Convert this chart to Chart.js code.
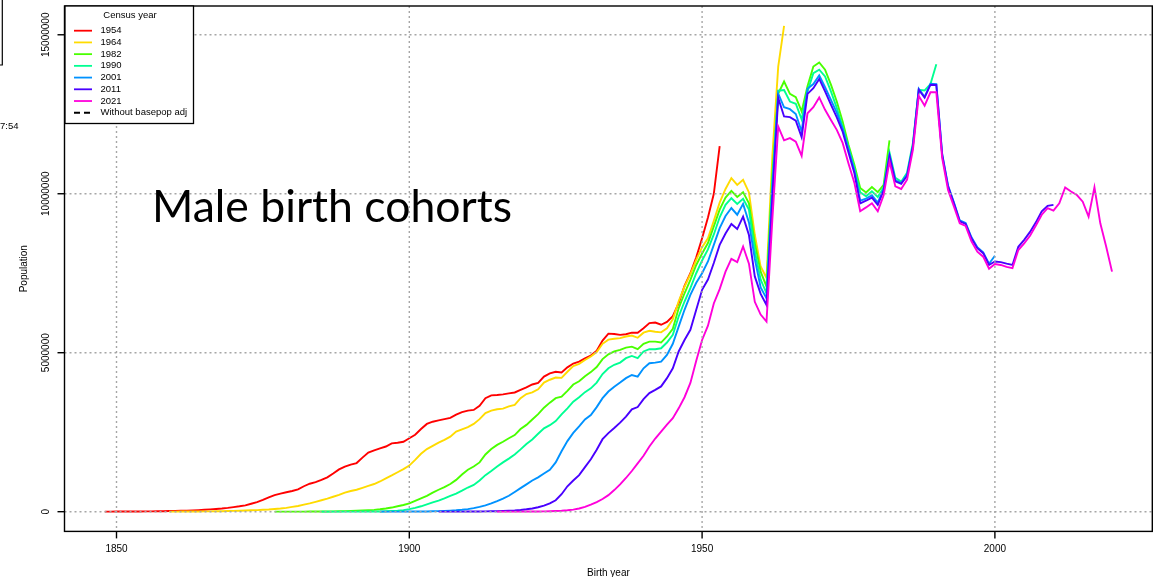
<!DOCTYPE html>
<html>
<head>
<meta charset="utf-8">
<script src="https://cdn.jsdelivr.net/npm/chart.js@4.4.0/dist/chart.umd.min.js"></script>
<style>
  html, body { margin: 0; padding: 0; background: #fff; }
  #wrap { position: relative; width: 1162px; height: 577px; }
</style>
</head>
<body>
<div id="wrap"><canvas id="cohortChart" width="1162" height="577"></canvas></div>
<script>
// birth years on the x axis
const birthYears = [
  1848, 1849, 1850, 1851, 1852, 1853, 1854, 1855, 1856, 1857,
  1858, 1859, 1860, 1861, 1862, 1863, 1864, 1865, 1866, 1867,
  1868, 1869, 1870, 1871, 1872, 1873, 1874, 1875, 1876, 1877,
  1878, 1879, 1880, 1881, 1882, 1883, 1884, 1885, 1886, 1887,
  1888, 1889, 1890, 1891, 1892, 1893, 1894, 1895, 1896, 1897,
  1898, 1899, 1900, 1901, 1902, 1903, 1904, 1905, 1906, 1907,
  1908, 1909, 1910, 1911, 1912, 1913, 1914, 1915, 1916, 1917,
  1918, 1919, 1920, 1921, 1922, 1923, 1924, 1925, 1926, 1927,
  1928, 1929, 1930, 1931, 1932, 1933, 1934, 1935, 1936, 1937,
  1938, 1939, 1940, 1941, 1942, 1943, 1944, 1945, 1946, 1947,
  1948, 1949, 1950, 1951, 1952, 1953, 1954, 1955, 1956, 1957,
  1958, 1959, 1960, 1961, 1962, 1963, 1964, 1965, 1966, 1967,
  1968, 1969, 1970, 1971, 1972, 1973, 1974, 1975, 1976, 1977,
  1978, 1979, 1980, 1981, 1982, 1983, 1984, 1985, 1986, 1987,
  1988, 1989, 1990, 1991, 1992, 1993, 1994, 1995, 1996, 1997,
  1998, 1999, 2000, 2001, 2002, 2003, 2004, 2005, 2006, 2007,
  2008, 2009, 2010, 2011, 2012, 2013, 2014, 2015, 2016, 2017,
  2018, 2019, 2020
];

// census years (legend) and the last birth year each census covers
const censusYears = ['1954', '1964', '1982', '1990', '2001', '2011', '2021'];
const lastBirthYear = [1953, 1964, 1982, 1990, 2000, 2010, 2020];
const lineColors = ['#FF0000', '#FFDB00', '#49FF00', '#00FF92', '#0092FF', '#4900FF', '#FF00DB'];

// population per birth cohort, millions (oldest cohort first)
const pop1954 = [
  0.003, 0.003, 0.004, 0.004, 0.005, 0.006, 0.007, 0.009, 0.011, 0.013,
  0.016, 0.02, 0.024, 0.029, 0.035, 0.042, 0.05, 0.06, 0.072, 0.085,
  0.1, 0.12, 0.145, 0.17, 0.2, 0.25, 0.3, 0.37, 0.45, 0.52,
  0.57, 0.61, 0.65, 0.7, 0.8, 0.88, 0.93, 1.0, 1.08, 1.2,
  1.33, 1.42, 1.48, 1.53, 1.7, 1.86, 1.93, 1.99, 2.05, 2.15,
  2.17, 2.2, 2.31, 2.42, 2.6, 2.76, 2.83, 2.87, 2.91, 2.95,
  3.05, 3.13, 3.18, 3.2, 3.33, 3.57, 3.66, 3.67, 3.69, 3.72,
  3.75, 3.83, 3.91, 4.0, 4.05, 4.25, 4.35, 4.4, 4.38, 4.54,
  4.66, 4.72, 4.82, 4.91, 5.06, 5.38, 5.6, 5.59, 5.56, 5.58,
  5.63, 5.63, 5.77, 5.93, 5.95, 5.88, 5.97, 6.15, 6.56, 7.1,
  7.5, 8.0, 8.6, 9.25, 10.0, 11.5
];
const pop1964 = [
  0.002, 0.003, 0.004, 0.005, 0.006, 0.007, 0.009, 0.011, 0.013, 0.016,
  0.02, 0.025, 0.03, 0.036, 0.043, 0.05, 0.06, 0.07, 0.085, 0.1,
  0.12, 0.15, 0.18, 0.22, 0.26, 0.31, 0.36, 0.41, 0.47, 0.53,
  0.6, 0.65, 0.69, 0.75, 0.81, 0.87, 0.95, 1.05, 1.14, 1.24,
  1.34, 1.45, 1.63, 1.82, 1.97, 2.07, 2.17, 2.26, 2.36, 2.52,
  2.59, 2.66, 2.76, 2.91, 3.1, 3.18, 3.22, 3.24, 3.31, 3.36,
  3.57, 3.7, 3.75, 3.85, 4.06, 4.15, 4.22, 4.21, 4.4, 4.58,
  4.65, 4.77, 4.88, 5.02, 5.28, 5.41, 5.44, 5.46, 5.51, 5.54,
  5.47, 5.63, 5.69, 5.66, 5.64, 5.77, 6.05, 6.62, 7.08, 7.47,
  7.92, 8.32, 8.6, 9.15, 9.72, 10.15, 10.49, 10.28, 10.44, 10.04,
  8.71, 7.71, 7.35, 11.2, 14.0, 15.28
];
const pop1982 = [
  0.001, 0.001, 0.002, 0.002, 0.003, 0.003, 0.004, 0.005, 0.006, 0.008,
  0.01, 0.013, 0.017, 0.022, 0.028, 0.036, 0.046, 0.058, 0.075, 0.1,
  0.13, 0.17, 0.21, 0.26, 0.34, 0.42, 0.5, 0.6, 0.69, 0.77,
  0.87, 1.0, 1.17, 1.32, 1.42, 1.55, 1.8, 1.97, 2.1, 2.2,
  2.31, 2.41, 2.6, 2.73, 2.9, 3.07, 3.27, 3.43, 3.57, 3.62,
  3.8, 4.0, 4.1, 4.26, 4.39, 4.55, 4.8, 4.95, 5.04, 5.09,
  5.16, 5.19, 5.11, 5.28, 5.35, 5.35, 5.32, 5.51, 5.75, 6.4,
  6.87, 7.29, 7.76, 8.12, 8.45, 8.97, 9.5, 9.88, 10.09, 9.9,
  10.05, 9.7, 8.45, 7.55, 7.08, 10.6, 13.15, 13.53, 13.14, 13.04,
  12.59, 13.38, 14.0, 14.13, 13.9, 13.43, 12.9, 12.27, 11.54, 10.91,
  10.18, 10.04, 10.21, 10.05, 10.28, 11.68
];
const pop1990 = [
  0.001, 0.001, 0.001, 0.002, 0.002, 0.003, 0.003, 0.004, 0.005, 0.006,
  0.008, 0.015, 0.022, 0.033, 0.05, 0.08, 0.12, 0.17, 0.23, 0.29,
  0.35, 0.42, 0.5, 0.57, 0.66, 0.76, 0.84, 0.98, 1.15, 1.28,
  1.42, 1.55, 1.67, 1.8, 1.96, 2.13, 2.27, 2.45, 2.62, 2.72,
  2.85, 3.06, 3.25, 3.46, 3.6, 3.76, 3.88, 4.06, 4.33, 4.51,
  4.62, 4.69, 4.83, 4.9, 4.83, 5.04, 5.11, 5.11, 5.14, 5.32,
  5.56, 6.14, 6.61, 7.03, 7.5, 7.9, 8.25, 8.72, 9.26, 9.65,
  9.86, 9.68, 9.84, 9.5, 8.2, 7.3, 6.87, 10.4, 13.24, 13.26,
  12.9, 12.83, 12.34, 13.22, 13.79, 13.9, 13.69, 13.22, 12.7, 12.1,
  11.45, 10.8, 10.05, 9.92, 10.08, 9.9, 10.2, 11.3, 10.5, 10.38,
  10.66, 11.6, 13.27, 13.25, 13.45, 14.07
];
const pop2001 = [
  0.001, 0.001, 0.002, 0.002, 0.003, 0.004, 0.005, 0.006, 0.008, 0.012,
  0.018, 0.025, 0.035, 0.045, 0.06, 0.08, 0.11, 0.15, 0.2, 0.26,
  0.33, 0.41, 0.5, 0.62, 0.74, 0.86, 0.98, 1.08, 1.2, 1.32,
  1.55, 1.9, 2.22, 2.48, 2.68, 2.9, 3.04, 3.29, 3.57, 3.78,
  3.93, 4.06, 4.2, 4.3, 4.25, 4.51, 4.67, 4.69, 4.72, 4.93,
  5.28, 5.82, 6.35, 6.82, 7.2, 7.5, 7.87, 8.39, 8.92, 9.3,
  9.55, 9.34, 9.68, 9.1, 7.95, 7.05, 6.71, 10.2, 13.15, 12.72,
  12.66, 12.51, 11.96, 13.3, 13.45, 13.72, 13.35, 12.95, 12.55, 12.05,
  11.4, 10.75, 9.78, 9.85, 9.95, 9.72, 10.15, 11.22, 10.42, 10.34,
  10.6, 11.52, 13.3, 13.05, 13.46, 13.45, 11.25, 10.26, 9.73, 9.16,
  9.08, 8.63, 8.32, 8.16, 7.8, 8.05
];
const pop2011 = [
  0.001, 0.001, 0.002, 0.002, 0.003, 0.004, 0.005, 0.007, 0.009, 0.012,
  0.016, 0.022, 0.03, 0.04, 0.055, 0.075, 0.1, 0.14, 0.19, 0.26,
  0.36, 0.55, 0.8, 0.98, 1.15, 1.4, 1.65, 1.95, 2.28, 2.47,
  2.63, 2.8, 2.99, 3.22, 3.29, 3.54, 3.73, 3.83, 3.94, 4.2,
  4.51, 5.04, 5.4, 5.72, 6.35, 6.98, 7.3, 7.82, 8.39, 8.75,
  9.05, 8.89, 9.28, 8.7, 7.4, 6.85, 6.5, 9.9, 13.01, 12.43,
  12.41, 12.3, 11.78, 13.14, 13.32, 13.61, 13.22, 12.8, 12.4, 11.95,
  11.3, 10.65, 9.7, 9.78, 9.88, 9.65, 10.1, 11.19, 10.39, 10.31,
  10.56, 11.49, 13.27, 13.02, 13.43, 13.42, 11.22, 10.23, 9.7, 9.13,
  9.05, 8.6, 8.29, 8.13, 7.76, 7.87, 7.85, 7.8, 7.76, 8.33,
  8.55, 8.8, 9.1, 9.45, 9.62, 9.65
];
const pop2021 = [
  0.001, 0.001, 0.002, 0.002, 0.003, 0.004, 0.005, 0.007, 0.01, 0.014,
  0.02, 0.03, 0.045, 0.065, 0.1, 0.15, 0.22, 0.3, 0.4, 0.52,
  0.68, 0.86, 1.06, 1.28, 1.52, 1.76, 2.05, 2.3, 2.52, 2.74,
  2.94, 3.25, 3.6, 4.05, 4.75, 5.4, 5.85, 6.55, 7.0, 7.55,
  7.95, 7.85, 8.34, 7.8, 6.6, 6.2, 5.98, 9.2, 12.11, 11.68,
  11.75, 11.64, 11.19, 12.53, 12.72, 13.03, 12.64, 12.32, 12.01, 11.6,
  10.95, 10.35, 9.45, 9.57, 9.7, 9.45, 9.95, 11.01, 10.23, 10.15,
  10.44, 11.38, 13.08, 12.77, 13.19, 13.19, 11.12, 10.12, 9.6, 9.07,
  8.99, 8.5, 8.18, 8.02, 7.64, 7.79, 7.76, 7.7, 7.66, 8.23,
  8.44, 8.68, 9.0, 9.34, 9.55, 9.47, 9.7, 10.2, 10.07, 9.96,
  9.75, 9.28, 10.2, 9.07, 8.34, 7.55
];

// axes
const xTicks = [1850, 1900, 1950, 2000];
const xTickLabels = ['1850', '1900', '1950', '2000'];
const yTicks = [0, 5, 10, 15];
const yTickLabels = ['0', '5000000', '10000000', '15000000'];

const seriesValues = [pop1954, pop1964, pop1982, pop1990, pop2001, pop2011, pop2021];
const axisFont = '"Liberation Sans", Arial, sans-serif';

// punkty (rok urodzenia, liczebność) dla jednego spisu
function cohortPoints(values, lastYear) {
    const end = birthYears.indexOf(lastYear);
    const years = birthYears.slice(end - values.length + 1, end + 1);
    return values.map((v, i) => ({ x: years[i], y: v }));
}

const datasets = censusYears.map((label, i) => ({
    label: label,
    data: cohortPoints(seriesValues[i], lastBirthYear[i]),
    borderColor: lineColors[i],
    borderWidth: 1.9,
    pointRadius: 0,
    tension: 0,
    fill: false,
    order: censusYears.length - i
}));
datasets.push({
    label: 'Without basepop adj',
    data: [],
    borderColor: '#000000',
    borderDash: [6, 4],
    borderWidth: 1.8,
    pointRadius: 0,
    order: 99
});

// R-style frame, dotted grid, axis text, legend and annotation
const rFrame = {
    id: 'rFrame',
    afterDatasetsDraw(chart) {
        const ctx = chart.ctx;
        const a = chart.chartArea;
        const x = chart.scales.x;
        const y = chart.scales.y;
        ctx.save();

        // dotted grid on top of the lines
        ctx.strokeStyle = '#a6a6a6';
        ctx.lineWidth = 1.4;
        ctx.setLineDash([2, 3]);
        xTicks.forEach(v => {
            const px = x.getPixelForValue(v);
            ctx.beginPath(); ctx.moveTo(px, a.top); ctx.lineTo(px, a.bottom); ctx.stroke();
        });
        yTicks.forEach(v => {
            const py = y.getPixelForValue(v);
            ctx.beginPath(); ctx.moveTo(a.left, py); ctx.lineTo(a.right, py); ctx.stroke();
        });
        ctx.setLineDash([]);

        // box and ticks
        ctx.strokeStyle = '#000';
        ctx.lineWidth = 1.4;
        ctx.strokeRect(a.left, a.top, a.right - a.left, a.bottom - a.top);
        ctx.fillStyle = '#000';
        ctx.font = '10px ' + axisFont;
        ctx.textAlign = 'center';
        ctx.textBaseline = 'middle';
        xTicks.forEach((v, i) => {
            const px = x.getPixelForValue(v);
            ctx.beginPath(); ctx.moveTo(px, a.bottom); ctx.lineTo(px, a.bottom + 7); ctx.stroke();
            ctx.fillText(xTickLabels[i], px, 549);
        });
        yTicks.forEach((v, i) => {
            const py = y.getPixelForValue(v);
            ctx.beginPath(); ctx.moveTo(a.left, py); ctx.lineTo(a.left - 7, py); ctx.stroke();
            ctx.save();
            ctx.translate(46.5, py);
            ctx.rotate(-Math.PI / 2);
            ctx.fillText(yTickLabels[i], 0, 0);
            ctx.restore();
        });

        // axis titles
        ctx.fillText('Birth year', (a.left + a.right) / 2, 573);
        ctx.save();
        ctx.translate(24, (a.top + a.bottom) / 2);
        ctx.rotate(-Math.PI / 2);
        ctx.fillText('Population', 0, 0);
        ctx.restore();

        // legend box
        const lx = 65, ly = 6, lw = 128.5, lh = 117.5;
        ctx.fillStyle = '#fff';
        ctx.fillRect(lx, ly, lw, lh);
        ctx.strokeStyle = '#000';
        ctx.lineWidth = 1.3;
        ctx.strokeRect(lx, ly, lw, lh);
        ctx.fillStyle = '#000';
        ctx.font = '9.5px ' + axisFont;
        ctx.fillText('Census year', 130, 15.5);
        ctx.textAlign = 'left';
        chart.data.datasets.forEach((ds, i) => {
            const ry = 30.7 + i * 11.72;
            ctx.strokeStyle = ds.borderColor;
            ctx.lineWidth = 1.8;
            ctx.setLineDash(ds.borderDash || []);
            ctx.beginPath(); ctx.moveTo(74, ry); ctx.lineTo(92, ry); ctx.stroke();
            ctx.fillText(ds.label, 100.5, ry);
        });
        ctx.setLineDash([]);

        // big annotation
        ctx.font = '44px Lato, "Open Sans", sans-serif';
        ctx.textBaseline = 'alphabetic';
        const msg = 'Male birth cohorts';
        const w = ctx.measureText(msg).width;
        ctx.save();
        ctx.translate(152, 222);
        ctx.scale(360 / w, 1);
        ctx.fillText(msg, 0, 0);
        ctx.restore();

        // leftovers at the left edge of the screenshot
        ctx.strokeStyle = '#000';
        ctx.lineWidth = 1.2;
        ctx.beginPath(); ctx.moveTo(2.3, 0); ctx.lineTo(2.3, 65); ctx.lineTo(0, 65); ctx.stroke();
        ctx.font = '9.5px ' + axisFont;
        ctx.textBaseline = 'middle';
        ctx.fillText('7:54', 0, 126);

        ctx.restore();
    }
};

new Chart(document.getElementById('cohortChart'), {
    type: 'line',
    data: { datasets: datasets },
    options: {
        responsive: false,
        animation: false,
        events: [],
        layout: { padding: { left: 64.5, right: 9.7, top: 6, bottom: 45.6 } },
        plugins: {
            legend: { display: false },
            tooltip: { enabled: false }
        },
        scales: {
            x: { type: 'linear', display: false, min: 1841.12, max: 2026.88 },
            y: { type: 'linear', display: false, min: -0.62, max: 15.905 }
        }
    },
    plugins: [rFrame]
});
</script>
</body>
</html>
